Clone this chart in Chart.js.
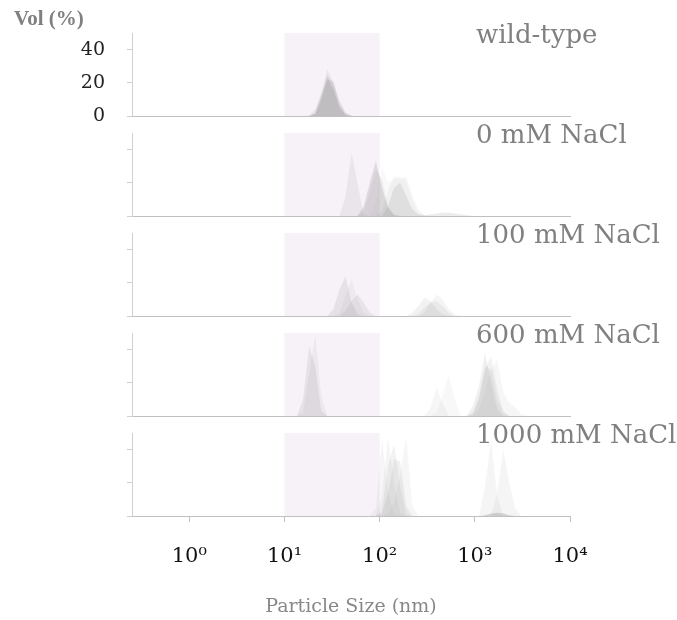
<!DOCTYPE html>
<html>
<head>
<meta charset="utf-8">
<script src="https://cdn.jsdelivr.net/npm/chart.js@4.4.0/dist/chart.umd.min.js"></script>
<style>
  body { margin: 0; background: #fff; width: 677px; height: 620px; position: relative; overflow: hidden; }
  canvas { position: absolute; left: 0; }
</style>
</head>
<body>
<div id="wrap"></div>
<script>
// size bins (nm) of the instrument
const sizeBins = [10.1, 11.7, 13.54, 15.69, 18.17, 21.04, 24.36, 28.21, 32.67, 37.84, 43.82, 50.75,
  58.77, 68.06, 78.82, 91.28, 105.7, 122.4, 141.8, 164.2, 190.1, 220.2, 255.0, 295.3, 342.0, 396.1,
  458.7, 531.2, 615.1, 712.4, 825.0, 955.4, 1106, 1281, 1484, 1718, 1990, 2305, 2669, 3091, 3580, 4145];

const panelLabels = ['wild-type', '0 mM NaCl', '100 mM NaCl', '600 mM NaCl', '1000 mM NaCl'];
const xTicks = [1, 10, 100, 1000, 10000];
const yTicks = [0, 20, 40];
const shadeRange = [10, 100];

// each curve: first bin size, then Vol (%) per bin
const wildType = [
  { from: 18.17, vol: [0, 1, 10, 23, 16, 5, 0.5, 0] },
  { from: 15.69, vol: [0, 0.5, 4, 14, 28, 20, 8, 2, 0.3, 0] },
  { from: 18.17, vol: [0, 2, 13, 25, 19, 7, 1, 0] },
  { from: 18.17, vol: [0, 1.5, 11, 22, 21, 9, 2, 0] }
];
const nacl0 = [
  { from: 37.84, vol: [0, 12, 38, 19, 1, 0] },
  { from: 58.77, vol: [0, 6, 20, 33, 17, 5, 0.5, 0] },
  { from: 58.77, vol: [0, 3, 15, 28, 22, 6, 1, 0] },
  { from: 105.7, vol: [0, 6, 17, 20, 12, 4, 1, 0.5, 1, 1.5, 2, 2, 1.5, 1, 0.5, 0] },
  { from: 91.28, vol: [0, 3, 15, 24, 22, 24, 12, 4, 0.5, 0] },
  { from: 78.82, vol: [0, 8, 30, 20, 22, 24, 20, 9, 2, 0] }
];
const nacl100 = [
  { from: 28.21, vol: [0, 4, 16, 24, 8, 1, 0] },
  { from: 32.67, vol: [0, 2, 12, 22, 10, 2, 0] },
  { from: 37.84, vol: [0, 3, 9, 13, 8, 2, 0] },
  { from: 190.1, vol: [0, 2, 6, 11, 9, 4, 1, 0] },
  { from: 255.0, vol: [0, 2, 8, 13, 10, 4, 1, 0] },
  { from: 220.2, vol: [0, 1, 5, 8, 9, 6, 2, 0] }
];
const nacl600 = [
  { from: 13.54, vol: [0, 10, 42, 30, 3, 0] },
  { from: 13.54, vol: [0, 2, 25, 49, 12, 0] },
  { from: 295.3, vol: [0, 5, 17, 8, 0] },
  { from: 342.0, vol: [0, 2, 12, 25, 10, 0] },
  { from: 825.0, vol: [0, 6, 18, 38, 20, 4, 0] },
  { from: 825.0, vol: [0, 2, 12, 28, 36, 16, 3, 0] },
  { from: 955.4, vol: [0, 4, 16, 28, 34, 14, 8, 5, 1, 0] },
  { from: 825.0, vol: [0, 1, 10, 30, 28, 10, 2, 0] }
];
const nacl1000 = [
  { from: 78.82, vol: [0, 5, 46, 15, 1, 0] },
  { from: 91.28, vol: [0, 12, 47, 20, 2, 0] },
  { from: 91.28, vol: [0, 3, 30, 43, 18, 1, 0] },
  { from: 91.28, vol: [0, 1, 14, 34, 33, 6, 0] },
  { from: 105.7, vol: [0, 1, 8, 25, 48, 6, 0] },
  { from: 1106, vol: [0, 18, 45, 12, 0] },
  { from: 1484, vol: [0, 14, 40, 20, 4, 0] },
  { from: 1106, vol: [0, 0.5, 1.5, 2, 1.5, 0.5, 0] }
];

// fill opacity per curve
const wildTypeAlpha = [0.2, 0.1, 0.14, 0.12];
const nacl0Alpha = [0.1, 0.2, 0.1, 0.15, 0.08, 0.05];
const nacl100Alpha = [0.14, 0.07, 0.12, 0.1, 0.08, 0.1];
const nacl600Alpha = [0.14, 0.08, 0.07, 0.06, 0.12, 0.1, 0.07, 0.1];
const nacl1000Alpha = [0.07, 0.08, 0.1, 0.12, 0.07, 0.08, 0.08, 0.3];

const panels = [
  [wildType, wildTypeAlpha],
  [nacl0, nacl0Alpha],
  [nacl100, nacl100Alpha],
  [nacl600, nacl600Alpha],
  [nacl1000, nacl1000Alpha]
];

const sup = ['\u2070', '\u00b9', '\u00b2', '\u00b3', '\u2074'];

function toPoints(c) {
  const i0 = sizeBins.indexOf(c.from);
  return c.vol.map((v, k) => ({ x: sizeBins[i0 + k], y: v }));
}

const panelDecor = {
  id: 'panelDecor',
  beforeDatasetsDraw(chart) {
    const { ctx, chartArea: a, scales: { x } } = chart;
    const x0 = x.getPixelForValue(shadeRange[0]);
    const x1 = x.getPixelForValue(shadeRange[1]);
    ctx.save();
    ctx.fillStyle = '#f7f1f8';
    ctx.fillRect(x0, a.top, x1 - x0, a.bottom - a.top);
    ctx.restore();
  },
  afterDraw(chart, args, opts) {
    const { ctx, chartArea: a } = chart;
    ctx.save();
    ctx.fillStyle = '#808080';
    ctx.textBaseline = 'middle';
    ctx.font = '26px "DejaVu Serif"';
    ctx.fillText(opts.label, a.right - 94, a.top + 3);
    if (opts.yTitle) {
      ctx.font = 'bold 21px "Liberation Serif"';
      ctx.fillText('Vol (%)', 14, 20);
    }
    ctx.restore();
  }
};

const wrap = document.getElementById('wrap');
const panelTop = 33, panelH = 83, below = 16;

panels.forEach(([curves, alphas], i) => {
  const bottom = i === panels.length - 1;
  const cv = document.createElement('canvas');
  const top = panelTop + i * 100 - 33;
  const h = bottom ? 620 - top : 33 + panelH + below;
  cv.width = 677; cv.height = h;
  cv.style.top = top + 'px';
  wrap.appendChild(cv);

  new Chart(cv, {
    type: 'line',
    data: {
      datasets: curves.map((c, k) => ({
        data: toPoints(c),
        fill: 'origin',
        backgroundColor: `rgba(128,128,128,${alphas[k]})`,
        borderWidth: 0,
        pointRadius: 0,
        tension: 0
      }))
    },
    options: {
      responsive: false,
      animation: false,
      devicePixelRatio: 1,
      events: [],
      layout: { padding: { top: 33, left: 0, right: 107, bottom: 0 } },
      plugins: {
        legend: { display: false },
        tooltip: { enabled: false },
        panelDecor: { label: panelLabels[i], yTitle: i === 0 }
      },
      scales: {
        x: {
          type: 'logarithmic',
          min: 0.25, max: 10000,
          afterBuildTicks: s => { s.ticks = xTicks.map(v => ({ value: v })); },
          afterFit: s => {
            s.height = bottom ? 620 - (top + 33 + panelH) : below;
            s.paddingLeft = 0; s.paddingRight = 0;
          },
          border: { color: '#c0c0c0' },
          grid: { drawOnChartArea: false, drawTicks: bottom, tickLength: 6, color: '#c0c0c0' },
          ticks: {
            display: bottom, autoSkip: false, maxRotation: 0, padding: 22,
            color: '#111', font: { family: 'DejaVu Serif', size: 21 },
            callback: v => '10' + sup[Math.round(Math.log10(v))]
          },
          title: {
            display: bottom, text: 'Particle Size (nm)', color: '#888',
            font: { family: 'DejaVu Serif', size: 19 }, padding: { top: 0, bottom: 2 }
          }
        },
        y: {
          min: 0, max: 50,
          afterBuildTicks: s => { s.ticks = yTicks.map(v => ({ value: v })); },
          afterFit: s => {
            s.width = 132;
            s.paddingTop = 0; s.paddingBottom = 0;
          },
          border: { color: '#d0d0d0' },
          grid: { drawOnChartArea: false, tickLength: 5, color: '#d0d0d0' },
          ticks: { display: i === 0, padding: 22, color: '#222', font: { family: 'DejaVu Serif', size: 19 } }
        }
      }
    },
    plugins: [panelDecor]
  });
});
</script>
</body>
</html>
